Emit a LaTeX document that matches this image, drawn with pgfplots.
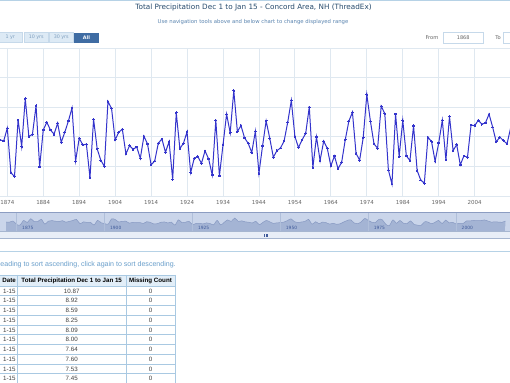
\documentclass[border=0pt]{standalone}
\usepackage{pgfplots}
\pgfplotsset{compat=1.18}
\usepackage{pgfplotstable}
\usepackage{fontspec}
\setmainfont{DejaVu Sans}
\newfontfamily\arial{Liberation Sans}
\newcommand{\fs}[1]{\fontsize{#1}{#1}\selectfont}
\definecolor{linecol}{RGB}{52,52,204}
\definecolor{gridcol}{HTML}{DFE8F0}
\definecolor{axiscol}{HTML}{C0CFDC}
\definecolor{ticklab}{HTML}{666666}
\definecolor{titlecol}{HTML}{274B6D}
\definecolor{subcol}{HTML}{5B85B0}
\definecolor{topline}{HTML}{B6D2E6}
\definecolor{btnfill}{HTML}{DDEAF5}
\definecolor{btnborder}{HTML}{C6D9EA}
\definecolor{btntext}{HTML}{7F9FBF}
\definecolor{btnsel}{HTML}{3F6CA3}
\definecolor{navbg}{HTML}{CAD5EA}
\definecolor{navfill}{HTML}{A4B4D4}
\definecolor{navline}{HTML}{8799C2}
\definecolor{navout}{HTML}{8C9DC2}
\definecolor{navgrid}{HTML}{B0BFDA}
\definecolor{navlab}{HTML}{3F5A9A}
\definecolor{scrfill}{HTML}{E8EEF7}
\definecolor{scrborder}{HTML}{A6B6D0}
\definecolor{sortcol}{HTML}{6A9FCB}
\definecolor{tabborder}{HTML}{A9C9E2}
\definecolor{tabhead}{HTML}{E2EEF8}

\pgfplotstableread{
year val
1872 4.75
1873 4.66
1874 5.74
1875 1.98
1876 1.64
1877 6.44
1878 4.18
1879 8.25
1880 5.03
1881 5.23
1882 7.64
1883 2.46
1884 5.59
1885 6.24
1886 5.59
1887 5.23
1888 6.16
1889 4.55
1890 5.40
1891 6.35
1892 7.45
1893 2.96
1894 4.89
1895 4.33
1896 4.38
1897 1.55
1898 6.50
1899 3.99
1900 3.03
1901 2.51
1902 8.00
1903 7.40
1904 4.75
1905 5.40
1906 5.65
1907 3.56
1908 4.26
1909 3.95
1910 4.15
1911 3.19
1912 5.06
1913 4.41
1914 2.63
1915 2.96
1916 4.46
1917 4.83
1918 3.70
1919 4.60
1920 1.41
1921 7.04
1922 4.01
1923 4.46
1924 5.43
1925 1.98
1926 3.19
1927 3.34
1928 2.76
1929 3.81
1930 3.14
1931 1.78
1932 6.41
1933 1.70
1934 4.33
1935 6.93
1936 5.34
1937 8.92
1938 5.45
1939 5.96
1940 4.91
1941 4.46
1942 3.68
1943 5.48
1944 1.93
1945 4.24
1946 6.35
1947 4.89
1948 3.28
1949 3.84
1950 4.06
1951 4.66
1952 6.24
1953 8.09
1954 5.03
1955 4.10
1956 4.75
1957 5.31
1958 7.53
1959 2.43
1960 5.00
1961 3.00
1962 4.64
1963 4.04
1964 2.54
1965 3.39
1966 2.31
1967 2.85
1968 4.75
1969 6.33
1970 7.09
1971 3.61
1972 3.03
1973 4.94
1974 8.59
1975 6.33
1976 4.41
1977 4.04
1978 7.60
1979 6.98
1980 2.20
1981 1.01
1982 6.95
1983 3.34
1984 6.39
1985 3.39
1986 3.00
1987 5.94
1988 2.15
1989 1.35
1990 1.08
1991 4.98
1992 4.60
1993 2.94
1994 4.49
1995 6.41
1996 3.05
1997 6.73
1998 3.84
1999 4.35
2000 2.63
2001 3.39
2002 3.28
2003 6.01
2004 5.94
2005 6.41
2006 6.08
2007 6.19
2008 6.93
2009 5.83
2010 4.58
2011 4.98
2012 4.69
2013 4.41
2014 5.76
}\precip

\begin{document}
\begin{tikzpicture}
\begin{scope}[x=1pt,y=1pt]
\fill[white] (0,0) rectangle (510,382);
\draw[topline, line width=1pt] (0,381.2) -- (510,381.2);
\node[font=\fs{7.25}, text=titlecol] at (253.5,374) {Total Precipitation Dec 1 to Jan 15 - Concord Area, NH (ThreadEx)};
\node[font=\fs{5.35}, text=subcol] at (253,360) {Use navigation tools above and below chart to change displayed range};
\foreach \a/\b/\t in {-2/22.5/1 yr,24/48.5/10 yrs,49/73.5/30 yrs}{
  \draw[btnborder, fill=btnfill, line width=0.5pt] (\a,339.3) rectangle (\b,349.3);
  \node[font=\fs{4.8}, text=btntext] at ({(\a+\b)/2},344.3) {\t};
}
\fill[btnsel] (74,339.3) rectangle (99,349.3);
\node[font=\bfseries\fs{4.8}, text=white] at (86.5,344.3) {All};
\node[font=\fs{5.2}, text=ticklab, anchor=east] at (442,344) {From};
\draw[btnborder, fill=white, line width=0.5pt] (443.5,339) rectangle (483,349.5);
\node[font=\fs{5}, text=ticklab] at (463.2,344.2) {1868};
\node[font=\fs{5.2}, text=ticklab] at (498,344) {To};
\draw[btnborder, fill=white, line width=0.5pt] (503.5,339) rectangle (545,349.5);
\fill[navbg] (0,150.3) rectangle (510,169.7);
\end{scope}

\begin{axis}[
  at={(0pt,186pt)}, anchor=south west,
  scale only axis, width=510pt, height=147.7pt,
  xmin=1871.97, xmax=2013.83, ymin=0, ymax=12.5,
  xtick={1874,1884,1894,1904,1914,1924,1934,1944,1954,1964,1974,1984,1994,2004,2014},
  xticklabels={1874,1884,1894,1904,1914,1924,1934,1944,1954,1964,1974,1984,1994,2004,2014},
  ytick={0,2.5,5,7.5,10,12.5}, yticklabels={},
  grid=major, major grid style={draw=gridcol, line width=0.9pt},
  axis line style={draw=none},
  major tick length=0pt,
  xticklabel style={font=\fs{5.5}, text=ticklab, anchor=base, yshift=-8.8pt},
  extra y ticks={0}, extra y tick labels={},
  extra y tick style={grid style={draw=axiscol, line width=1pt}},
]
\addplot[draw=linecol, line width=1pt, mark=*, mark size=0.85pt,
  mark options={fill=linecol, draw=linecol, line width=0pt}] table[x=year,y=val]{\precip};
\end{axis}

\begin{axis}[
  at={(0pt,150.3pt)}, anchor=south west,
  scale only axis, width=510pt, height=19.4pt,
  xmin=1870.25, xmax=2015.3, ymin=-5.5, ymax=15,
  xtick={1875,1900,1925,1950,1975,2000},
  xticklabels={1875,1900,1925,1950,1975,2000},
  ytick={0}, yticklabels={}, xmajorgrids, major grid style={draw=navgrid, line width=0.6pt},
  axis line style={draw=none}, major tick length=0pt, axis on top,
  xticklabel style={font=\fs{4.4}, text=navlab, anchor=base west, xshift=2pt, yshift=1.8pt},
]
\fill[navfill] (axis cs:1872,-5.5) rectangle (axis cs:2014,0);
\addplot[fill=navfill, draw=none, smooth] table[x=year,y=val]{\precip} \closedcycle;
\addplot[draw=navline, line width=0.5pt, smooth] table[x=year,y=val]{\precip};
\end{axis}

\begin{scope}[x=1pt,y=1pt]
\draw[navout, line width=0.9pt] (0,169.7) -- (510,169.7);
\draw[scrborder, fill=scrfill, line width=0.5pt] (-1,143.7) rectangle (511,150.3);
\foreach \dx in {-1.2,0,1.2}{\draw[navlab, line width=0.35pt] (265.7+\dx,145.4) -- (265.7+\dx,148.4);}
\draw[topline, line width=0.8pt] (0,130.5) -- (510,130.5);
\node[font=\arial\fs{7.05}, text=sortcol, anchor=west, inner sep=0pt] at (0.3,117) {eading to sort ascending, click again to sort descending.};
\fill[tabhead] (-2,96) rectangle (175,107);
\draw[tabborder, line width=0.6pt] (-2,107) -- (175,107);
\foreach \i in {0,...,10}{\draw[tabborder, line width=0.6pt] (-2,{96-9.75*\i}) -- (175,{96-9.75*\i});}
\foreach \xx in {17.3,126,175}{\draw[tabborder, line width=0.6pt] (\xx,107) -- (\xx,-5);}
\node[font=\arial\bfseries\fs{6.2}, anchor=east, inner sep=0pt] at (16,101.5) {Date};
\node[font=\arial\bfseries\fs{6.2}, inner sep=0pt] at (71.7,101.5) {Total Precipitation Dec 1 to Jan 15};
\node[font=\arial\bfseries\fs{6.2}, inner sep=0pt] at (150.5,101.5) {Missing Count};
\foreach \v [count=\i from 0] in {10.87,8.92,8.59,8.25,8.09,8.00,7.64,7.60,7.53,7.45}{
  \node[font=\arial\fs{6.2}, text=black!75, anchor=east, inner sep=0pt] at (15.8,{91.1-9.75*\i}) {1-15};
  \node[font=\arial\fs{6.2}, text=black!75, inner sep=0pt] at (71.7,{91.1-9.75*\i}) {\v};
  \node[font=\arial\fs{6.2}, text=black!75, inner sep=0pt] at (150.5,{91.1-9.75*\i}) {0};
}
\pgfresetboundingbox
\path[use as bounding box] (0,0) rectangle (510,382);
\end{scope}
\end{tikzpicture}
\end{document}
